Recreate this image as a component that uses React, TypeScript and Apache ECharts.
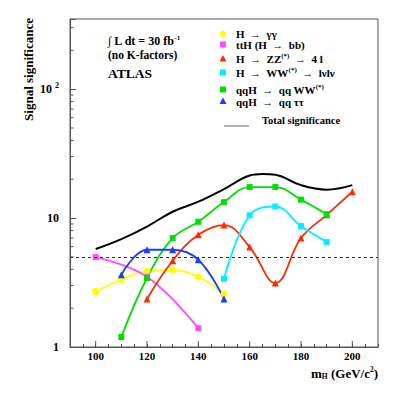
import React, { useEffect, useRef } from "react";
import * as echarts from "echarts";

const X_MIN = 90;
const X_MAX = 210;
const Y_MIN = 1;
const Y_MAX = 350;

const massGG = [100, 110, 120, 130, 140, 150];
const sigGG = [2.7, 3.34, 3.88, 3.95, 3.49, 2.59];

const massTTH = [100, 120, 140];
const sigTTH = [4.98, 3.5, 1.4];

const massZZ = [120, 130, 140, 150, 160, 170, 180, 190, 200];
const sigZZ = [2.36, 4.67, 7.42, 8.83, 5.96, 3.13, 7.0, 10.6, 16.0];

const massWW = [150, 160, 170, 180, 190];
const sigWW = [3.38, 10.5, 12.3, 8.67, 6.51];

const massQQWW = [110, 120, 130, 140, 150, 160, 170, 180, 190];
const sigQQWW = [1.195, 3.43, 7.0, 9.36, 13.3, 17.4, 17.4, 13.9, 10.7];

const massQQTT = [110, 120, 130, 140, 150];
const sigQQTT = [3.63, 5.68, 5.68, 4.75, 2.36];

const massTotal = [100, 110, 120, 130, 140, 150, 160, 165, 170, 180, 190, 200];
const sigTotal = [5.75, 6.87, 8.6, 11.2, 13.4, 16.8, 21.4, 22.0, 21.7, 18.0, 16.6, 18.0];

const discoveryLevel = 5;

const xTickLabels = [100, 120, 140, 160, 180, 200];
const yMinorTicks = [2, 3, 4, 5, 6, 7, 8, 9, 20, 30, 40, 50, 60, 70, 80, 90, 200, 300];

const FONT = "'Liberation Serif', 'DejaVu Serif', 'Times New Roman', serif";

const colors = {
  gg: "#ffff00",
  tth: "#ff4dff",
  zz: "#ff2a00",
  ww: "#00f0ff",
  qqww: "#00e000",
  qqtt: "#1a3cff",
};

const zip = (xs: number[], ys: number[]) => xs.map((x, i) => [x, ys[i]]);

function lineSeries(name: string, xs: number[], ys: number[], color: string, symbol: string, size = 6) {
  return {
    name,
    type: "line",
    data: zip(xs, ys),
    smooth: 0.4,
    symbol,
    symbolSize: size,
    showSymbol: true,
    itemStyle: { color },
    lineStyle: { color, width: 1.8 },
    emphasis: { disabled: true },
  };
}

export default function App() {
  const ref = useRef<HTMLDivElement>(null);

  useEffect(() => {
    if (!ref.current) return;
    const chart = echarts.init(ref.current, undefined, { renderer: "svg" });

    const legendX = 223;
    const textX = 236;
    const legendText = (y: number, text: string) => ({
      type: "text",
      x: textX,
      y,
      style: {
        text,
        font: `bold 11px ${FONT}`,
        fill: "#000",
        verticalAlign: "middle",
        rich: {
          t: { font: `bold 11px ${FONT}`, fill: "#000" },
          s: { font: `bold 7px ${FONT}`, fill: "#000", padding: [0, 0, 7, 0] },
        },
      },
    });
    const tri = (cx: number, cy: number, color: string) => ({
      type: "polygon",
      shape: { points: [[cx, cy - 3.5], [cx + 3.5, cy + 3], [cx - 3.5, cy + 3]] },
      style: { fill: color },
    });
    const sq = (cx: number, cy: number, color: string) => ({
      type: "rect",
      shape: { x: cx - 3, y: cy - 3, width: 6, height: 6 },
      style: { fill: color },
    });

    const tickSeries = (data: number[][], horizontal: boolean, len: number) => ({
      type: "custom",
      silent: true,
      clip: false,
      z: 5,
      data,
      renderItem: (params: any, api: any) => {
        const p = api.coord([api.value(0), api.value(1)]);
        return {
          type: "line",
          shape: horizontal
            ? { x1: p[0], y1: p[1], x2: p[0] + len, y2: p[1] }
            : { x1: p[0], y1: p[1], x2: p[0], y2: p[1] - len },
          style: { stroke: "#555", lineWidth: 1 },
        };
      },
    });

    const option: any = {
      animation: false,
      backgroundColor: "#fff",
      grid: {
        left: 70,
        right: 42,
        top: 19,
        bottom: 50,
        show: true,
        borderColor: "#555",
        borderWidth: 1,
        backgroundColor: "transparent",
      },
      xAxis: {
        type: "value",
        min: X_MIN,
        max: X_MAX,
        interval: 5,
        axisLine: { lineStyle: { color: "#555", width: 1 } },
        axisTick: { inside: true, length: 3, lineStyle: { color: "#555" } },
        splitLine: { show: false },
        axisLabel: {
          interval: 0,
          margin: 3,
          color: "#000",
          fontFamily: FONT,
          fontWeight: "bold",
          fontSize: 11,
          formatter: (v: number) => (xTickLabels.indexOf(v) >= 0 ? String(v) : ""),
        },
      },
      yAxis: {
        type: "log",
        logBase: 10,
        min: Y_MIN,
        max: Y_MAX,
        axisLine: { show: true, lineStyle: { color: "#555", width: 1 } },
        axisTick: { inside: true, length: 6, lineStyle: { color: "#555" } },
        splitLine: { show: false },
        axisLabel: {
          margin: 11,
          color: "#000",
          fontFamily: FONT,
          fontWeight: "bold",
          fontSize: 12,
          formatter: (v: number) => {
            if (Math.abs(v - 1) < 1e-6) return "1";
            if (Math.abs(v - 10) < 1e-6) return "10";
            if (Math.abs(v - 100) < 1e-4) return "10 {s|2}";
            return "";
          },
          rich: {
            s: { fontFamily: FONT, fontWeight: "bold", fontSize: 8, padding: [0, 0, 8, 0] },
          },
        },
      },
      series: [
        tickSeries(yMinorTicks.map((v) => [X_MIN, v]), true, 3.5),
        tickSeries(xTickLabels.map((v) => [v, Y_MIN]), false, 6),
        {
          name: "Total significance",
          type: "line",
          data: zip(massTotal, sigTotal),
          smooth: 0.4,
          showSymbol: false,
          symbol: "none",
          lineStyle: { color: "#000", width: 2 },
          itemStyle: { color: "#000" },
          emphasis: { disabled: true },
          markLine: {
            silent: true,
            symbol: "none",
            label: { show: false },
            lineStyle: { color: "#333", type: [3, 3], width: 1 },
            data: [{ yAxis: discoveryLevel }],
          },
        },
        lineSeries("H → γγ", massGG, sigGG, colors.gg, "circle", 7),
        lineSeries("ttH (H → bb)", massTTH, sigTTH, colors.tth, "rect", 6),
        lineSeries("H → ZZ(*) → 4l", massZZ, sigZZ, colors.zz, "triangle", 7),
        lineSeries("H → WW(*) → lνlν", massWW, sigWW, colors.ww, "rect", 6),
        lineSeries("qqH → qq WW(*)", massQQWW, sigQQWW, colors.qqww, "rect", 6),
        lineSeries("qqH → qq ττ", massQQTT, sigQQTT, colors.qqtt, "triangle", 7),
      ],
      graphic: [
        {
          type: "text",
          x: 28,
          y: 18,
          rotation: Math.PI / 2,
          style: {
            text: "Signal significance",
            font: `bold 13px ${FONT}`,
            fill: "#000",
            align: "right",
            verticalAlign: "middle",
          },
        },
        {
          type: "text",
          x: 378,
          y: 373,
          style: {
            text: "{t|m}{b|H}{t| (GeV/c}{s|2}{t|)}",
            align: "right",
            verticalAlign: "middle",
            rich: {
              t: { font: `bold 13px ${FONT}`, fill: "#000" },
              b: { font: `bold 7.5px ${FONT}`, fill: "#000", padding: [6, 0, 0, 0] },
              s: { font: `bold 7.5px ${FONT}`, fill: "#000", padding: [0, 0, 7, 0] },
            },
          },
        },
        {
          type: "text",
          x: 108,
          y: 41,
          style: {
            text: "{t|∫ L dt = 30 fb}{s|-1}",
            verticalAlign: "middle",
            rich: {
              t: { font: `bold 12px ${FONT}`, fill: "#000" },
              s: { font: `bold 7px ${FONT}`, fill: "#000", padding: [0, 0, 7, 0] },
            },
          },
        },
        {
          type: "text",
          x: 108,
          y: 55,
          style: { text: "(no K-factors)", font: `bold 11.5px ${FONT}`, fill: "#000", verticalAlign: "middle" },
        },
        {
          type: "text",
          x: 108,
          y: 73,
          style: { text: "ATLAS", font: `bold 13.5px ${FONT}`, fill: "#000", verticalAlign: "middle" },
        },
        { type: "circle", shape: { cx: legendX, cy: 34, r: 3.3 }, style: { fill: colors.gg } },
        legendText(34, "{t|H  →  γγ}"),
        sq(legendX, 44.5, colors.tth),
        legendText(44.5, "{t|ttH (H  →  bb)}"),
        tri(legendX, 58.5, colors.zz),
        legendText(59, "{t|H  →  ZZ}{s|(*)}{t|  →  4 l}"),
        sq(legendX, 72.5, colors.ww),
        legendText(73, "{t|H  →  WW}{s|(*)}{t|  →  lνlν}"),
        sq(legendX, 89.5, colors.qqww),
        legendText(90, "{t|qqH  →  qq WW}{s|(*)}"),
        tri(legendX, 101, colors.qqtt),
        legendText(101.5, "{t|qqH  →  qq ττ}"),
        {
          type: "line",
          shape: { x1: 224, y1: 126, x2: 249, y2: 126 },
          style: { stroke: "#666", lineWidth: 1 },
        },
        {
          type: "text",
          x: 262,
          y: 120,
          style: { text: "Total significance", font: `bold 10.5px ${FONT}`, fill: "#000", verticalAlign: "middle" },
        },
      ],
    };

    chart.setOption(option);
    return () => chart.dispose();
  }, []);

  return <div ref={ref} style={{ width: 420, height: 397, margin: -8 }} />;
}
